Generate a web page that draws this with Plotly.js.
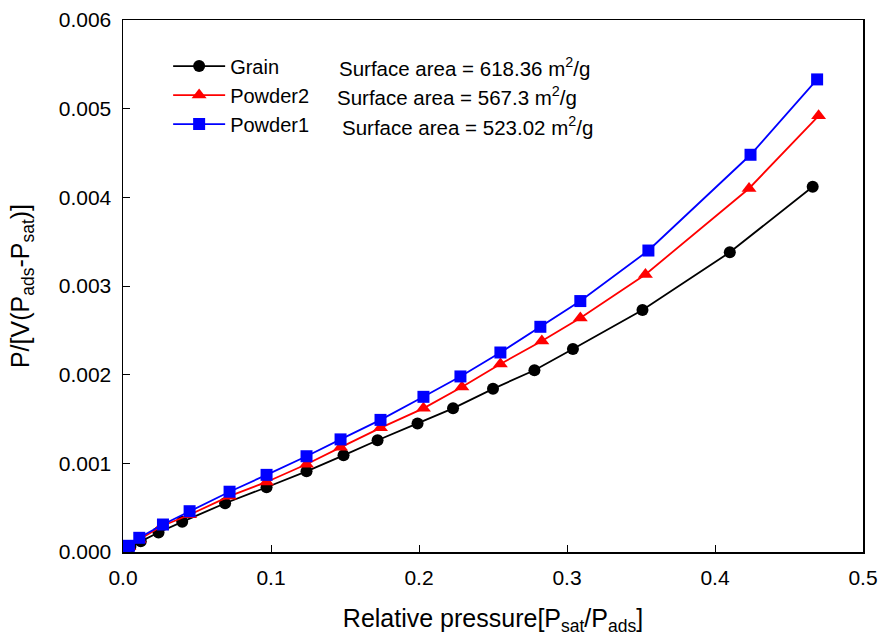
<!DOCTYPE html>
<html>
<head>
<meta charset="utf-8">
<script src="https://cdn.plot.ly/plotly-3.0.1.min.js"></script>
<style>html,body{margin:0;padding:0;background:#fff;}#chart{width:881px;height:636px;}</style>
</head>
<body>
<div id="chart"></div>
<script>
// Grain
var grainX = [0.002, 0.005, 0.012, 0.024, 0.040, 0.069, 0.097, 0.124, 0.149, 0.172, 0.199, 0.223, 0.250, 0.278, 0.304, 0.351, 0.410, 0.466];
var grainY = [0.00002, 0.00006, 0.00012, 0.00022, 0.00034, 0.00055, 0.00073, 0.00091, 0.00109, 0.00126, 0.00145, 0.00162, 0.00184, 0.00205, 0.00229, 0.00273, 0.00338, 0.00412];
// Powder2
var powder2X = [0.001, 0.004, 0.011, 0.026, 0.045, 0.072, 0.097, 0.124, 0.147, 0.174, 0.203, 0.229, 0.255, 0.283, 0.309, 0.353, 0.423, 0.470];
var powder2Y = [0.00002, 0.00006, 0.00014, 0.00029, 0.00042, 0.00063, 0.00079, 0.00099, 0.00118, 0.00140, 0.00162, 0.00186, 0.00212, 0.00238, 0.00264, 0.00313, 0.00410, 0.00492];
// Powder1
var powder1X = [0.001, 0.004, 0.011, 0.027, 0.045, 0.072, 0.097, 0.124, 0.147, 0.174, 0.203, 0.228, 0.255, 0.282, 0.309, 0.355, 0.424, 0.469];
var powder1Y = [0.00003, 0.00007, 0.00016, 0.00031, 0.00046, 0.00068, 0.00087, 0.00108, 0.00127, 0.00149, 0.00175, 0.00198, 0.00225, 0.00254, 0.00283, 0.00340, 0.00448, 0.00533];

var seriesNames = ['Grain', 'Powder2', 'Powder1'];
var surfaceLabels = ['Surface area = 618.36 m<sup>2</sup>/g', 'Surface area = 567.3 m<sup>2</sup>/g', 'Surface area = 523.02 m<sup>2</sup>/g'];
var xTickVals = [0, 0.1, 0.2, 0.3, 0.4, 0.5];
var yTickVals = [0, 0.001, 0.002, 0.003, 0.004, 0.005, 0.006];

var FONT = 'Arial, "Liberation Sans", sans-serif';

var traces = [
  {x: grainX, y: grainY, name: seriesNames[0], mode: 'lines+markers', type: 'scatter',
   line: {color: '#000000', width: 1.8}, marker: {symbol: 'circle', size: 12, color: '#000000'}},
  {x: powder2X, y: powder2Y, name: seriesNames[1], mode: 'lines+markers', type: 'scatter',
   line: {color: '#ff0000', width: 1.8}, marker: {symbol: 'triangle-up', size: 13, color: '#ff0000'}},
  {x: powder1X, y: powder1Y, name: seriesNames[2], mode: 'lines+markers', type: 'scatter',
   line: {color: '#0000ff', width: 1.8}, marker: {symbol: 'square', size: 12, color: '#0000ff'}}
];

var annXs = [0.289, 0.286, 0.293];
var annYs = [0.912, 0.857, 0.801];
var annotations = surfaceLabels.map(function (t, i) {
  return {text: t, xref: 'paper', yref: 'paper', x: annXs[i], y: annYs[i],
          xanchor: 'left', yanchor: 'middle', showarrow: false,
          font: {family: FONT, size: 20.5, color: '#000'}};
});

var layout = {
  width: 881, height: 636,
  margin: {l: 123, r: 18, t: 20, b: 84},
  paper_bgcolor: '#ffffff', plot_bgcolor: '#ffffff',
  font: {family: FONT, color: '#000'},
  showlegend: true,
  legend: {x: 0.061, y: 0.95, xanchor: 'left', yanchor: 'top', bgcolor: 'rgba(0,0,0,0)',
           font: {family: FONT, size: 20, color: '#000'}, itemwidth: 52, tracegroupgap: 0},
  xaxis: {range: [0, 0.5], tickvals: xTickVals, tickformat: '.1f', ticks: 'inside', ticklen: 7,
          tickcolor: '#000', showline: true, linecolor: '#000', linewidth: 1.5, mirror: true,
          showgrid: false, zeroline: false, tickfont: {family: FONT, size: 21}, ticklabelstandoff: 6,
          title: {text: 'Relative pressure[P<sub>sat</sub>/P<sub>ads</sub>]', font: {family: FONT, size: 25}, standoff: 22}},
  yaxis: {range: [0, 0.006], tickvals: yTickVals, tickformat: '.3f', ticks: 'inside', ticklen: 7,
          tickcolor: '#000', showline: true, linecolor: '#000', linewidth: 1.5, mirror: true,
          showgrid: false, zeroline: false, tickfont: {family: FONT, size: 21}, ticklabelstandoff: 6,
          title: {text: 'P/[V(P<sub>ads</sub>-P<sub>sat</sub>)]', font: {family: FONT, size: 25}, standoff: 22}},
  annotations: annotations
};

Plotly.newPlot('chart', traces, layout, {displayModeBar: false, staticPlot: true});
</script>
</body>
</html>
